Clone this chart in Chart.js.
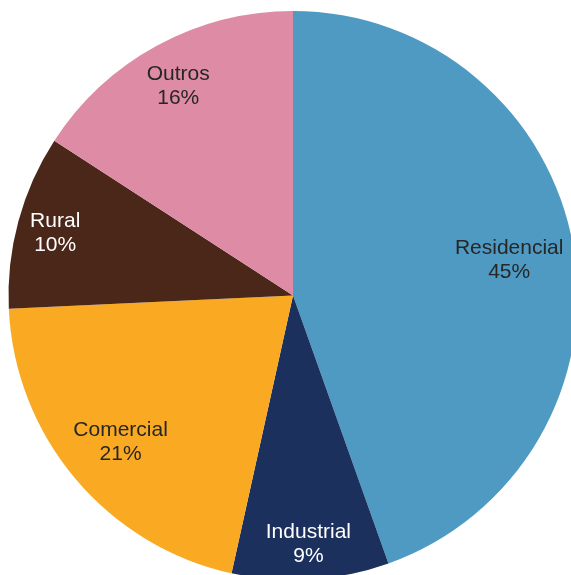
<!DOCTYPE html>
<html>
<head>
<meta charset="utf-8">
<script src="https://cdn.jsdelivr.net/npm/chart.js@4"></script>
<style>
  html, body { margin: 0; padding: 0; background: #fff; overflow: hidden; }
  #wrap { position: absolute; left: 0; top: 0; width: 586px; height: 591px; }
</style>
</head>
<body>
<div id="wrap"><canvas id="consumoChart" width="586" height="591"></canvas></div>
<script>
// Participação por classe de consumo
const classes = ['Residencial', 'Industrial', 'Comercial', 'Rural', 'Outros'];
const percentuais = [45, 9, 21, 10, 16];
const coresFatias = ['#4F9AC3', '#1B305C', '#F9AA22', '#4A2719', '#DE8BA6'];
const coresTexto = ['#262626', '#FFFFFF', '#262626', '#FFFFFF', '#262626'];

const FONTE = 21;
const ALTURA_LINHA = 24;

// Rótulos dentro das fatias, empurrados para a borda até a caixa do texto caber
const rotulosPlugin = {
    id: 'rotulos',
    afterDatasetsDraw(chart) {
        const ctx = chart.ctx;
        const arcs = chart.getDatasetMeta(0).data;
        ctx.save();
        ctx.font = FONTE + 'px "Liberation Sans", Arial, sans-serif';
        ctx.textAlign = 'center';
        ctx.textBaseline = 'middle';
        arcs.forEach((arc, i) => {
            const p = arc.getProps(['x', 'y', 'startAngle', 'endAngle', 'outerRadius']);
            const meio = (p.startAngle + p.endAngle) / 2;
            const dx = Math.cos(meio), dy = Math.sin(meio);
            const linhas = [classes[i], percentuais[i] + '%'];
            const w = Math.max(...linhas.map(t => ctx.measureText(t).width)) / 2;
            const h = ALTURA_LINHA;
            const limite = p.outerRadius - 7;
            let r = p.outerRadius * 0.88;
            const cabe = (rr) => {
                const cx = dx * rr, cy = dy * rr;
                return [[-w, -h], [w, -h], [-w, h], [w, h]].every(([ox, oy]) =>
                    Math.hypot(cx + ox, cy + oy) <= limite);
            };
            while (r > 0 && !cabe(r)) r -= 1;
            const x = p.x + dx * r, y = p.y + dy * r + 2;
            ctx.fillStyle = coresTexto[i];
            ctx.fillText(linhas[0], x, y - ALTURA_LINHA / 2);
            ctx.fillText(linhas[1], x, y + ALTURA_LINHA / 2);
        });
        ctx.restore();
    }
};

new Chart(document.getElementById('consumoChart'), {
    type: 'pie',
    data: {
        labels: classes,
        datasets: [{
            data: percentuais,
            backgroundColor: coresFatias,
            borderWidth: 0
        }]
    },
    options: {
        responsive: false,
        animation: false,
        devicePixelRatio: 1,
        layout: { padding: { left: 8.5, right: 8.5, top: 11, bottom: 11 } },
        plugins: {
            legend: { display: false },
            tooltip: { enabled: false }
        }
    },
    plugins: [rotulosPlugin]
});
</script>
</body>
</html>
